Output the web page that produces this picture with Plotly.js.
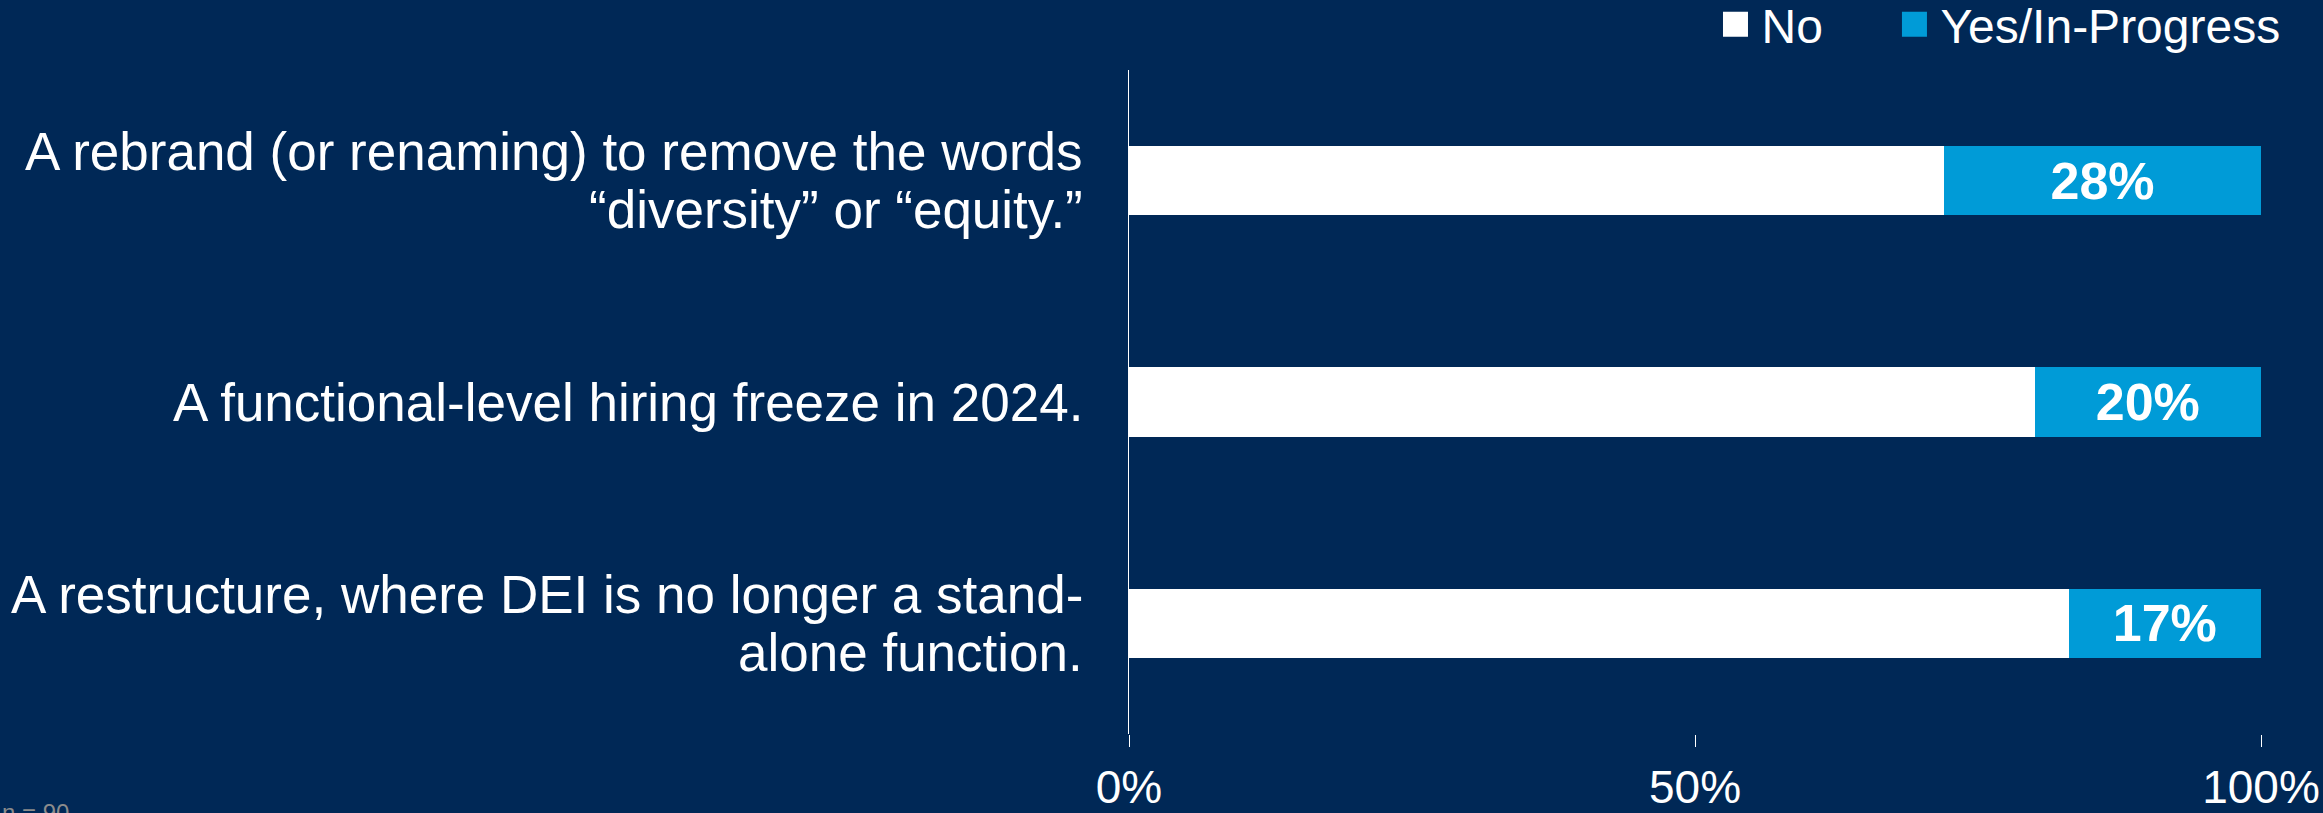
<!DOCTYPE html>
<html>
<head>
<meta charset="utf-8">
<script src="https://cdn.plot.ly/plotly-3.0.1.min.js"></script>
<style>
  html, body { margin: 0; padding: 0; background: #002856; }
  #chart { width: 2323px; height: 813px; }
</style>
</head>
<body>
<div id="chart"></div>
<script>
// ---- data ----
const categories = [
  "A rebrand (or renaming) to remove the words<br>“diversity” or “equity.”",
  "A functional-level hiring freeze in 2024.",
  "A restructure, where DEI is no longer a stand-<br>alone function."
];
const noValues = [72, 80, 83];
const yesValues = [28, 20, 17];
const seriesNames = ["No", "Yes/In-Progress"];
const xTickVals = [0, 50, 100];
const xTickText = ["0%", "50%", "100%"];
const noteText = "n = 90";

// ---- styles ----
const BG = "#002856";
const BLUE = "#009BD7";
const FONT = "Liberation Sans, Arial, sans-serif";
const LABEL_SIZE = 53;
const LINE_GAP = 58; // px between the baselines of a two-line category label

const traces = [
  {
    type: "bar",
    orientation: "h",
    name: seriesNames[0],
    legend: "legend",
    y: categories,
    x: noValues,
    marker: { color: "#FFFFFF", line: { width: 0 } },
    hoverinfo: "skip"
  },
  {
    type: "bar",
    orientation: "h",
    name: seriesNames[1],
    legend: "legend2",
    y: categories,
    x: yesValues,
    marker: { color: BLUE, line: { width: 0 } },
    text: yesValues.map(v => v + "%"),
    textposition: "inside",
    insidetextanchor: "middle",
    constraintext: "none",
    textfont: { family: FONT, size: 52, color: "#FFFFFF", weight: "bold" },
    hoverinfo: "skip"
  }
];

// category labels drawn line by line, aligned right of the y axis
const labelAnnotations = [];
categories.forEach(cat => {
  const lines = cat.split("<br>");
  const n = lines.length;
  lines.forEach((line, i) => {
    labelAnnotations.push({
      text: line,
      xref: "paper", yref: "y",
      x: 0, y: cat,
      xanchor: "right", yanchor: "middle",
      xshift: -44,
      yshift: ((n - 1) / 2 - i) * LINE_GAP,
      showarrow: false,
      font: { family: FONT, size: LABEL_SIZE, color: "#FFFFFF" }
    });
  });
});

const legendBase = {
  orientation: "h",
  xanchor: "left",
  y: 1.0685,
  yanchor: "middle",
  font: { family: FONT, size: 48, color: "#FFFFFF" },
  bgcolor: "rgba(0,0,0,0)",
  borderwidth: 0,
  itemclick: false,
  itemdoubleclick: false
};

const layout = {
  width: 2323,
  height: 813,
  autosize: false,
  paper_bgcolor: BG,
  plot_bgcolor: BG,
  font: { family: FONT, color: "#FFFFFF" },
  margin: { l: 1129, r: 62, t: 70, b: 79, pad: 0, autoexpand: false },
  barmode: "stack",
  bargap: 0.688,
  showlegend: true,
  legend: Object.assign({}, legendBase, { x: 0.5234 }),
  legend2: Object.assign({}, legendBase, { x: 0.6815 }),
  xaxis: {
    range: [0, 100],
    tickvals: xTickVals,
    ticktext: xTickText,
    ticks: "outside",
    ticklen: 12,
    tickwidth: 1,
    tickcolor: "#FFFFFF",
    ticklabelstandoff: 1,
    showgrid: false,
    zeroline: false,
    showline: false,
    tickfont: { family: FONT, size: 46, color: "#FFFFFF" },
    fixedrange: true
  },
  yaxis: {
    type: "category",
    categoryorder: "array",
    categoryarray: categories,
    range: [2.5, -0.5],
    showline: true,
    linecolor: "#FFFFFF",
    linewidth: 1,
    ticks: "",
    showticklabels: false,
    showgrid: false,
    zeroline: false,
    fixedrange: true
  },
  annotations: labelAnnotations.concat([
    {
      text: noteText,
      xref: "paper", yref: "paper",
      x: -0.997, y: -0.095,
      xanchor: "left", yanchor: "top",
      showarrow: false,
      font: { family: FONT, size: 24, color: "#8C8C8C" }
    }
  ])
};

Plotly.newPlot("chart", traces, layout, { displayModeBar: false, staticPlot: true }).then(gd => {
  gd.querySelectorAll(".legendpoints path").forEach(p => {
    p.setAttribute("d", "M6.5,12.5H-18.5V-12.5H6.5Z");
  });
});
</script>
</body>
</html>
